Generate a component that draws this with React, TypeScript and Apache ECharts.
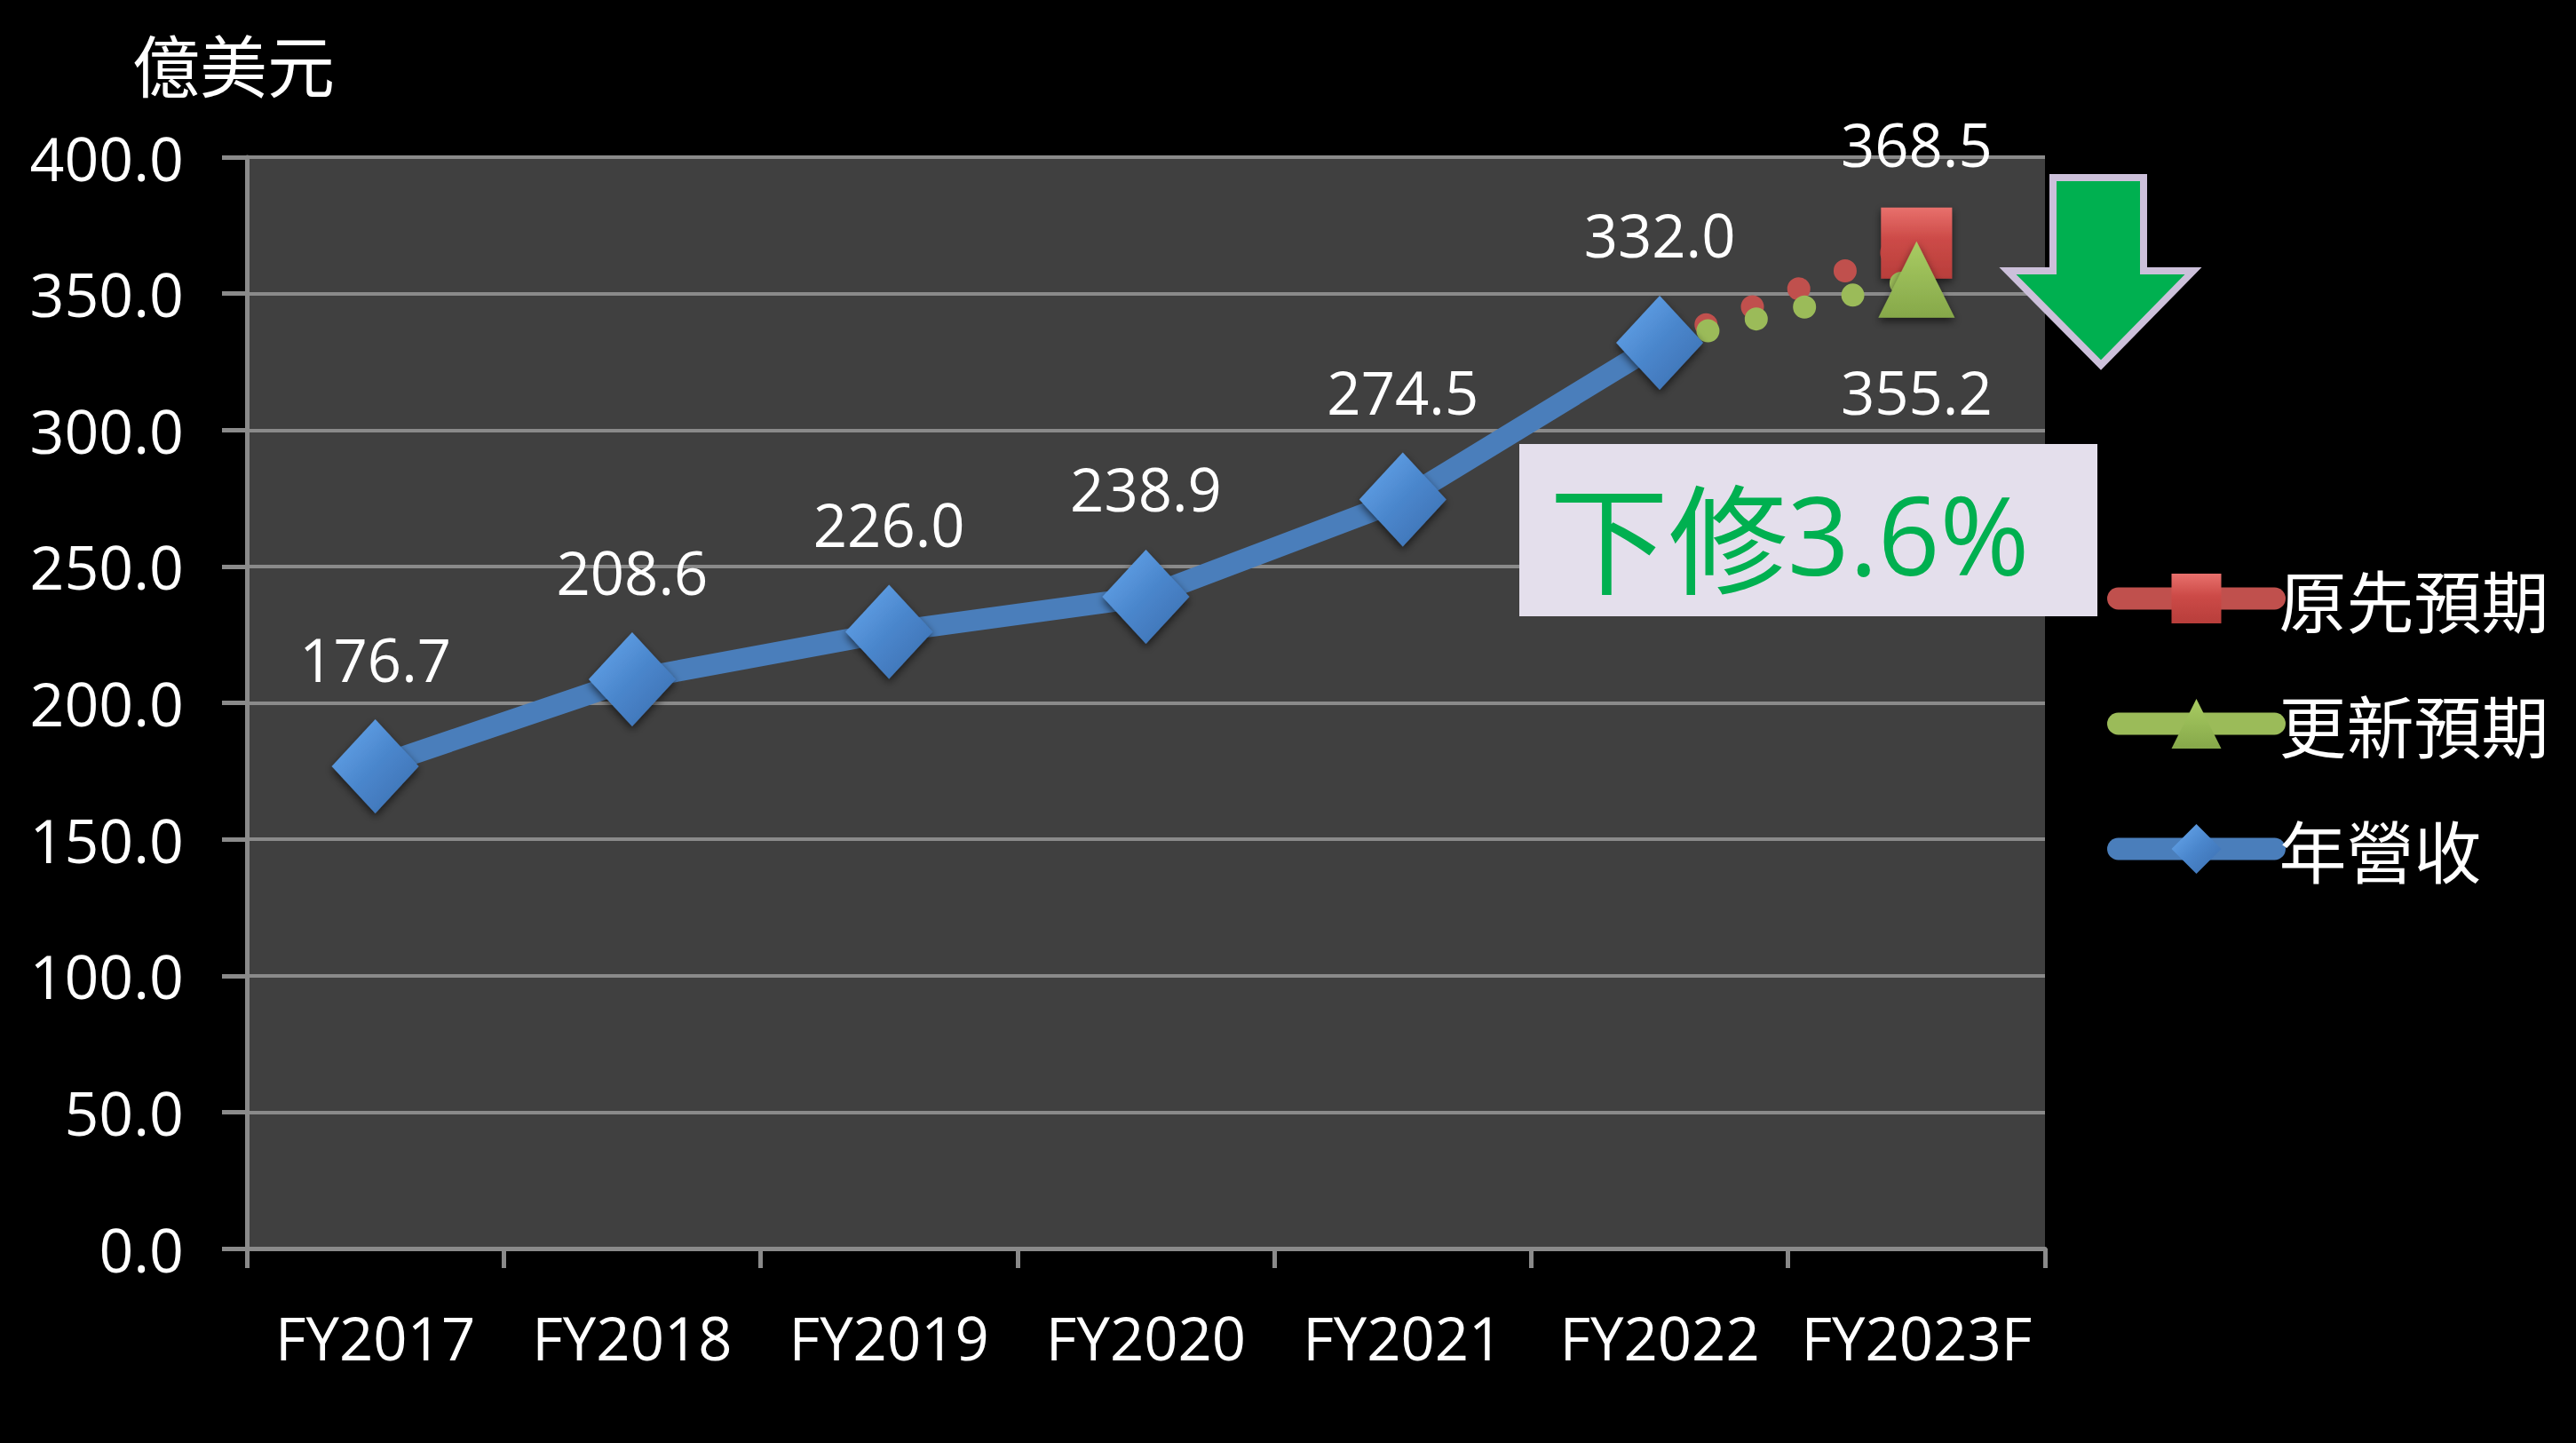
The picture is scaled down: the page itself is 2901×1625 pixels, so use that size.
import { useEffect, useRef } from 'react';
import * as echarts from 'echarts';

const categories = ['FY2017', 'FY2018', 'FY2019', 'FY2020', 'FY2021', 'FY2022', 'FY2023F'];
const revenue: (number | null)[] = [176.7, 208.6, 226.0, 238.9, 274.5, 332.0, null];
const originalForecast: (number | null)[] = [null, null, null, null, null, 332.0, 368.5];
const updatedForecast: (number | null)[] = [null, null, null, null, null, 332.0, 355.2];
const seriesNames = ['原先預期', '更新預期', '年營收'];
const unitLabel = '億美元';
const calloutCjk = '下修';
const calloutPct = '3.6%';
const yMin = 0;
const yMax = 400;
const yInterval = 50;

const LATIN = '"Open Sans", "Noto Sans", sans-serif';
const CJK = '"Noto Sans CJK TC", "Noto Sans CJK SC", sans-serif';
const GRID = '#8a8a8a';

function forecastData(arr: (number | null)[]) {
  const firstIdx = arr.findIndex((v) => v != null);
  return arr.map((v, i) =>
    v == null ? null : i === firstIdx ? { value: v, symbol: 'none', label: { show: false } } : v
  );
}

export default function App() {
  const ref = useRef<HTMLDivElement>(null);
  useEffect(() => {
    document.body.style.margin = '0';
    document.body.style.background = '#000';
    const chart = echarts.init(ref.current!, null, { renderer: 'svg' });
    const labelStyle = {
      show: true,
      color: '#ffffff',
      fontFamily: LATIN,
      fontSize: 67,
      formatter: (p: any) => Number(p.value).toFixed(1),
    };
    chart.setOption({
      animation: false,
      backgroundColor: '#000000',
      grid: {
        left: 278,
        right: 598,
        top: 177,
        bottom: 219,
        show: true,
        backgroundColor: '#404040',
        borderWidth: 0,
      },
      legend: {
        orient: 'vertical',
        left: 2373,
        top: 636,
        itemWidth: 176,
        itemHeight: 70,
        itemGap: 65,
        padding: 0,
        data: seriesNames,
        textStyle: { color: '#ffffff', fontFamily: CJK, fontSize: 76, padding: 0 },
        lineStyle: { type: 'solid', width: 25, cap: 'round' },
      },
      xAxis: {
        type: 'category',
        data: categories,
        boundaryGap: true,
        axisLine: { show: true, lineStyle: { color: GRID, width: 5 } },
        axisTick: { show: true, length: 22, alignWithLabel: false, interval: 0, lineStyle: { color: GRID, width: 5 } },
        axisLabel: { color: '#ffffff', fontFamily: LATIN, fontSize: 67, margin: 66, interval: 0 },
        splitLine: { show: false },
      },
      yAxis: {
        type: 'value',
        min: yMin,
        max: yMax,
        interval: yInterval,
        name: unitLabel,
        nameLocation: 'end',
        nameGap: 68,
        nameTextStyle: { color: '#ffffff', fontFamily: CJK, fontSize: 76, align: 'center', padding: [0, 30, 0, 0] },
        axisLine: { show: true, lineStyle: { color: GRID, width: 5 } },
        axisTick: { show: true, length: 28, lineStyle: { color: GRID, width: 5 } },
        axisLabel: {
          color: '#ffffff',
          fontFamily: LATIN,
          fontSize: 68,
          margin: 71,
          formatter: (v: number) => v.toFixed(1),
        },
        splitLine: { show: true, lineStyle: { color: GRID, width: 4 } },
      },
      series: [
        {
          name: seriesNames[0],
          type: 'line',
          data: forecastData(originalForecast),
          symbol: 'rect',
          symbolSize: 80,
          lineStyle: { color: '#C0504D', width: 26, type: [0, 56], cap: 'round' },
          itemStyle: {
            color: new echarts.graphic.LinearGradient(0, 0, 0, 1, [
              { offset: 0, color: '#E8706C' },
              { offset: 0.45, color: '#CC4A47' },
              { offset: 1, color: '#B83E3B' },
            ]),
            shadowBlur: 10,
            shadowColor: 'rgba(0,0,0,0.6)',
            shadowOffsetY: 4,
          },
          label: { ...labelStyle, position: 'top', distance: 38 },
          z: 2,
        },
        {
          name: seriesNames[1],
          type: 'line',
          data: forecastData(updatedForecast),
          symbol: 'triangle',
          symbolSize: 86,
          lineStyle: { color: '#9BBB59', width: 26, type: [0, 56], cap: 'round' },
          itemStyle: {
            color: new echarts.graphic.LinearGradient(0, 0, 0, 1, [
              { offset: 0, color: '#A9CC62' },
              { offset: 1, color: '#86A84A' },
            ]),
            shadowBlur: 10,
            shadowColor: 'rgba(0,0,0,0.6)',
            shadowOffsetY: 4,
          },
          label: { ...labelStyle, position: 'bottom', distance: 50 },
          z: 3,
        },
        {
          name: seriesNames[2],
          type: 'line',
          data: revenue,
          symbol: 'diamond',
          symbolSize: [98, 106],
          lineStyle: { color: '#4A7EBB', width: 24 },
          itemStyle: {
            color: new echarts.graphic.LinearGradient(0, 0, 1, 1, [
              { offset: 0, color: '#6AAAF0' },
              { offset: 0.5, color: '#4A86CC' },
              { offset: 1, color: '#3A6CAD' },
            ]),
            shadowBlur: 10,
            shadowColor: 'rgba(0,0,0,0.6)',
            shadowOffsetY: 4,
          },
          label: { ...labelStyle, position: 'top', distance: 35 },
          z: 4,
        },
      ],
      graphic: [
        {
          type: 'polygon',
          z: 100,
          shape: {
            points: [
              [2312, 200],
              [2414, 200],
              [2414, 305],
              [2470, 305],
              [2366, 411],
              [2261, 305],
              [2312, 305],
            ],
          },
          style: { fill: '#00B050', stroke: '#CCC0DA', lineWidth: 8 },
        },
        {
          type: 'rect',
          z: 100,
          shape: { x: 1711, y: 500, width: 651, height: 194 },
          style: { fill: '#E4DFEC' },
        },
        {
          type: 'text',
          z: 101,
          x: 1745,
          y: 601,
          style: {
            text: `{a|${calloutCjk}}{b|${calloutPct}}`,
            verticalAlign: 'middle',
            align: 'left',
            rich: {
              a: { fontFamily: CJK, fontSize: 134, fill: '#00B050', color: '#00B050' },
              b: { fontFamily: LATIN, fontSize: 122, fill: '#00B050', color: '#00B050' },
            },
          },
        },
      ],
    });
    return () => chart.dispose();
  }, []);
  return <div ref={ref} style={{ width: 2901, height: 1625 }} />;
}
